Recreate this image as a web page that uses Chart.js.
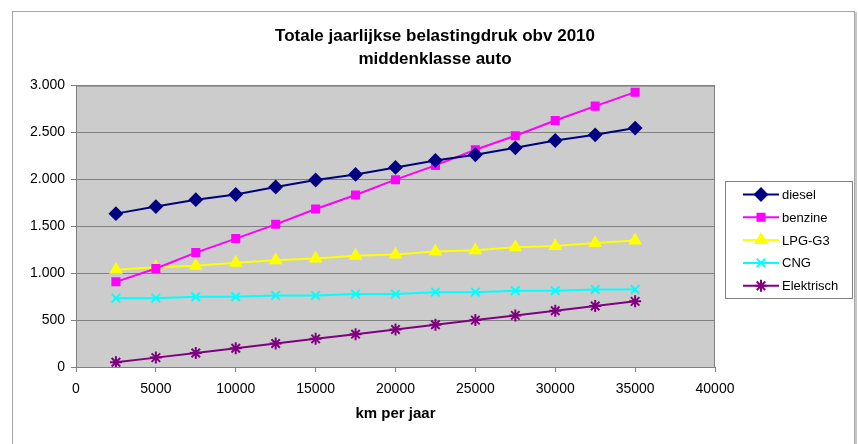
<!DOCTYPE html>
<html>
<head>
<meta charset="utf-8">
<title>Totale jaarlijkse belastingdruk</title>
<script src="https://cdn.jsdelivr.net/npm/chart.js@4.4.1/dist/chart.umd.min.js"></script>
<style>
  html, body { margin: 0; padding: 0; background: #ffffff; }
  #wrap { width: 858px; height: 444px; position: relative; }
</style>
</head>
<body>
<div id="wrap"><canvas id="taxChart" width="858" height="444"></canvas></div>
<script>
// km per jaar
const kms = [2500, 5000, 7500, 10000, 12500, 15000, 17500, 20000, 22500, 25000, 27500, 30000, 32500, 35000];

// jaarlijkse belastingdruk (euro)
const diesel     = [1635, 1710, 1784, 1839, 1919, 1994, 2053, 2128, 2202, 2263, 2337, 2415, 2475, 2547];
const benzine    = [908, 1050, 1220, 1369, 1521, 1685, 1834, 1997, 2149, 2316, 2465, 2628, 2781, 2930];
const lpg        = [1036, 1064, 1079, 1111, 1138, 1156, 1185, 1199, 1231, 1245, 1277, 1291, 1323, 1348];
const cng        = [734, 734, 749, 749, 763, 763, 777, 777, 798, 798, 813, 813, 827, 827];
const elektrisch = [50, 100, 150, 200, 250, 300, 350, 400, 450, 500, 550, 600, 650, 700];

const seriesNames = ['diesel', 'benzine', 'LPG-G3', 'CNG', 'Elektrisch'];
const xTicks = [0, 5000, 10000, 15000, 20000, 25000, 30000, 35000, 40000];
const yTicks = [0, 500, 1000, 1500, 2000, 2500, 3000];

const FONT = "'Liberation Sans', Arial, sans-serif";

function toPoints(values) {
    return values.map((v, i) => ({ x: kms[i], y: v }));
}

// thousands separator in Dutch style: 3.000
function dutch(v) {
    return String(v).replace(/\B(?=(\d{3})+(?!\d))/g, '.');
}

const styles = [
    { color: '#000080', point: 'rectRot', radius: 6 },
    { color: '#FF00FF', point: 'rect', radius: 5 },
    { color: '#FFFF00', point: 'triangle', radius: 6 },
    { color: '#00FFFF', point: 'crossRot', radius: 6 },
    { color: '#800080', point: 'star', radius: 6 }
];
const allValues = [diesel, benzine, lpg, cng, elektrisch];

const datasets = allValues.map((vals, i) => ({
    label: seriesNames[i],
    data: toPoints(vals),
    borderColor: styles[i].color,
    backgroundColor: styles[i].color,
    pointBackgroundColor: styles[i].color,
    pointBorderColor: styles[i].color,
    pointStyle: styles[i].point,
    pointRadius: styles[i].radius,
    pointBorderWidth: 2,
    borderWidth: 2,
    tension: 0
}));

// frame + grey plot area, drawn before everything else
const backdrop = {
    id: 'backdrop',
    beforeDraw(chart) {
        const c = chart.ctx;
        const a = chart.chartArea;
        c.save();
        c.fillStyle = '#ffffff';
        c.fillRect(0, 0, chart.width, chart.height);
        c.strokeStyle = '#a6a6a6';
        c.lineWidth = 1;
        c.strokeRect(12.5, 11.5, 842, 460);
        c.fillStyle = '#c8c8c8';
        c.fillRect(855, 12, 2, 444);
        c.fillStyle = '#cccccc';
        c.fillRect(a.left, a.top, a.right - a.left, a.bottom - a.top);
        c.strokeStyle = '#808080';
        c.strokeRect(a.left + 0.5, a.top + 0.5, a.right - a.left - 1, a.bottom - a.top);
        c.restore();
    }
};

// legend box on the right, drawn with the datasets' own styles
const sideLegend = {
    id: 'sideLegend',
    afterDraw(chart) {
        const c = chart.ctx;
        const box = { x: 725, y: 181, w: 127, h: 117 };
        c.save();
        c.fillStyle = '#ffffff';
        c.fillRect(box.x, box.y, box.w, box.h);
        c.strokeStyle = '#808080';
        c.lineWidth = 1;
        c.strokeRect(box.x + 0.5, box.y + 0.5, box.w, box.h);
        c.font = '13px ' + FONT;
        c.textBaseline = 'middle';
        chart.data.datasets.forEach((ds, i) => {
            const y = 194.5 + i * 22.8;
            c.strokeStyle = ds.borderColor;
            c.lineWidth = 2;
            c.beginPath();
            c.moveTo(743, y);
            c.lineTo(779, y);
            c.stroke();
            c.fillStyle = ds.pointBackgroundColor;
            c.lineWidth = 2;
            Chart.helpers.drawPoint(c, { pointStyle: ds.pointStyle, radius: ds.pointRadius, rotation: 0, borderWidth: 2 }, 761, y);
            c.fillStyle = '#000000';
            c.fillText(ds.label, 782, y + 1);
        });
        c.restore();
    }
};

const ctx = document.getElementById('taxChart').getContext('2d');
const taxChart = new Chart(ctx, {
    type: 'line',
    data: { datasets: datasets },
    options: {
        responsive: false,
        animation: false,
        layout: { padding: { left: 12, right: 0, top: 0, bottom: 0 } },
        plugins: {
            legend: { display: false },
            tooltip: { enabled: false },
            title: {
                display: true,
                text: ['Totale jaarlijkse belastingdruk obv 2010', 'middenklasse auto'],
                color: '#000000',
                font: { family: FONT, size: 17, weight: 'bold', lineHeight: 1.4 },
                padding: { top: 24, bottom: 14 }
            }
        },
        scales: {
            x: {
                type: 'linear',
                min: 0,
                max: 40000,
                afterBuildTicks(scale) {
                    scale.ticks = xTicks.map(v => ({ value: v }));
                },
                afterFit(scale) { scale.height = 77; },
                ticks: {
                    color: '#000000',
                    font: { family: FONT, size: 14 },
                    padding: 9,
                    maxRotation: 0,
                    callback: v => String(v)
                },
                grid: {
                    drawOnChartArea: false,
                    drawTicks: true,
                    tickLength: 5,
                    color: '#808080'
                },
                border: { color: '#808080' },
                title: {
                    display: true,
                    text: 'km per jaar',
                    color: '#000000',
                    font: { family: FONT, size: 15, weight: 'bold', lineHeight: 1.2 },
                    padding: { top: 4, bottom: 21 }
                }
            },
            y: {
                min: 0,
                max: 3000,
                afterBuildTicks(scale) {
                    scale.ticks = yTicks.map(v => ({ value: v }));
                },
                afterFit(scale) { scale.width = 64; },
                ticks: {
                    color: '#000000',
                    font: { family: FONT, size: 14 },
                    padding: 6,
                    callback: v => dutch(v)
                },
                grid: {
                    color: '#808080',
                    tickLength: 5
                },
                border: { color: '#808080' }
            },
            // empty right-hand axis that only reserves room for the legend
            legendSpace: {
                position: 'right',
                min: 0,
                max: 1,
                afterFit(scale) { scale.width = 143; },
                ticks: { display: false },
                grid: { display: false },
                border: { display: false }
            }
        }
    },
    plugins: [backdrop, sideLegend]
});
</script>
</body>
</html>
